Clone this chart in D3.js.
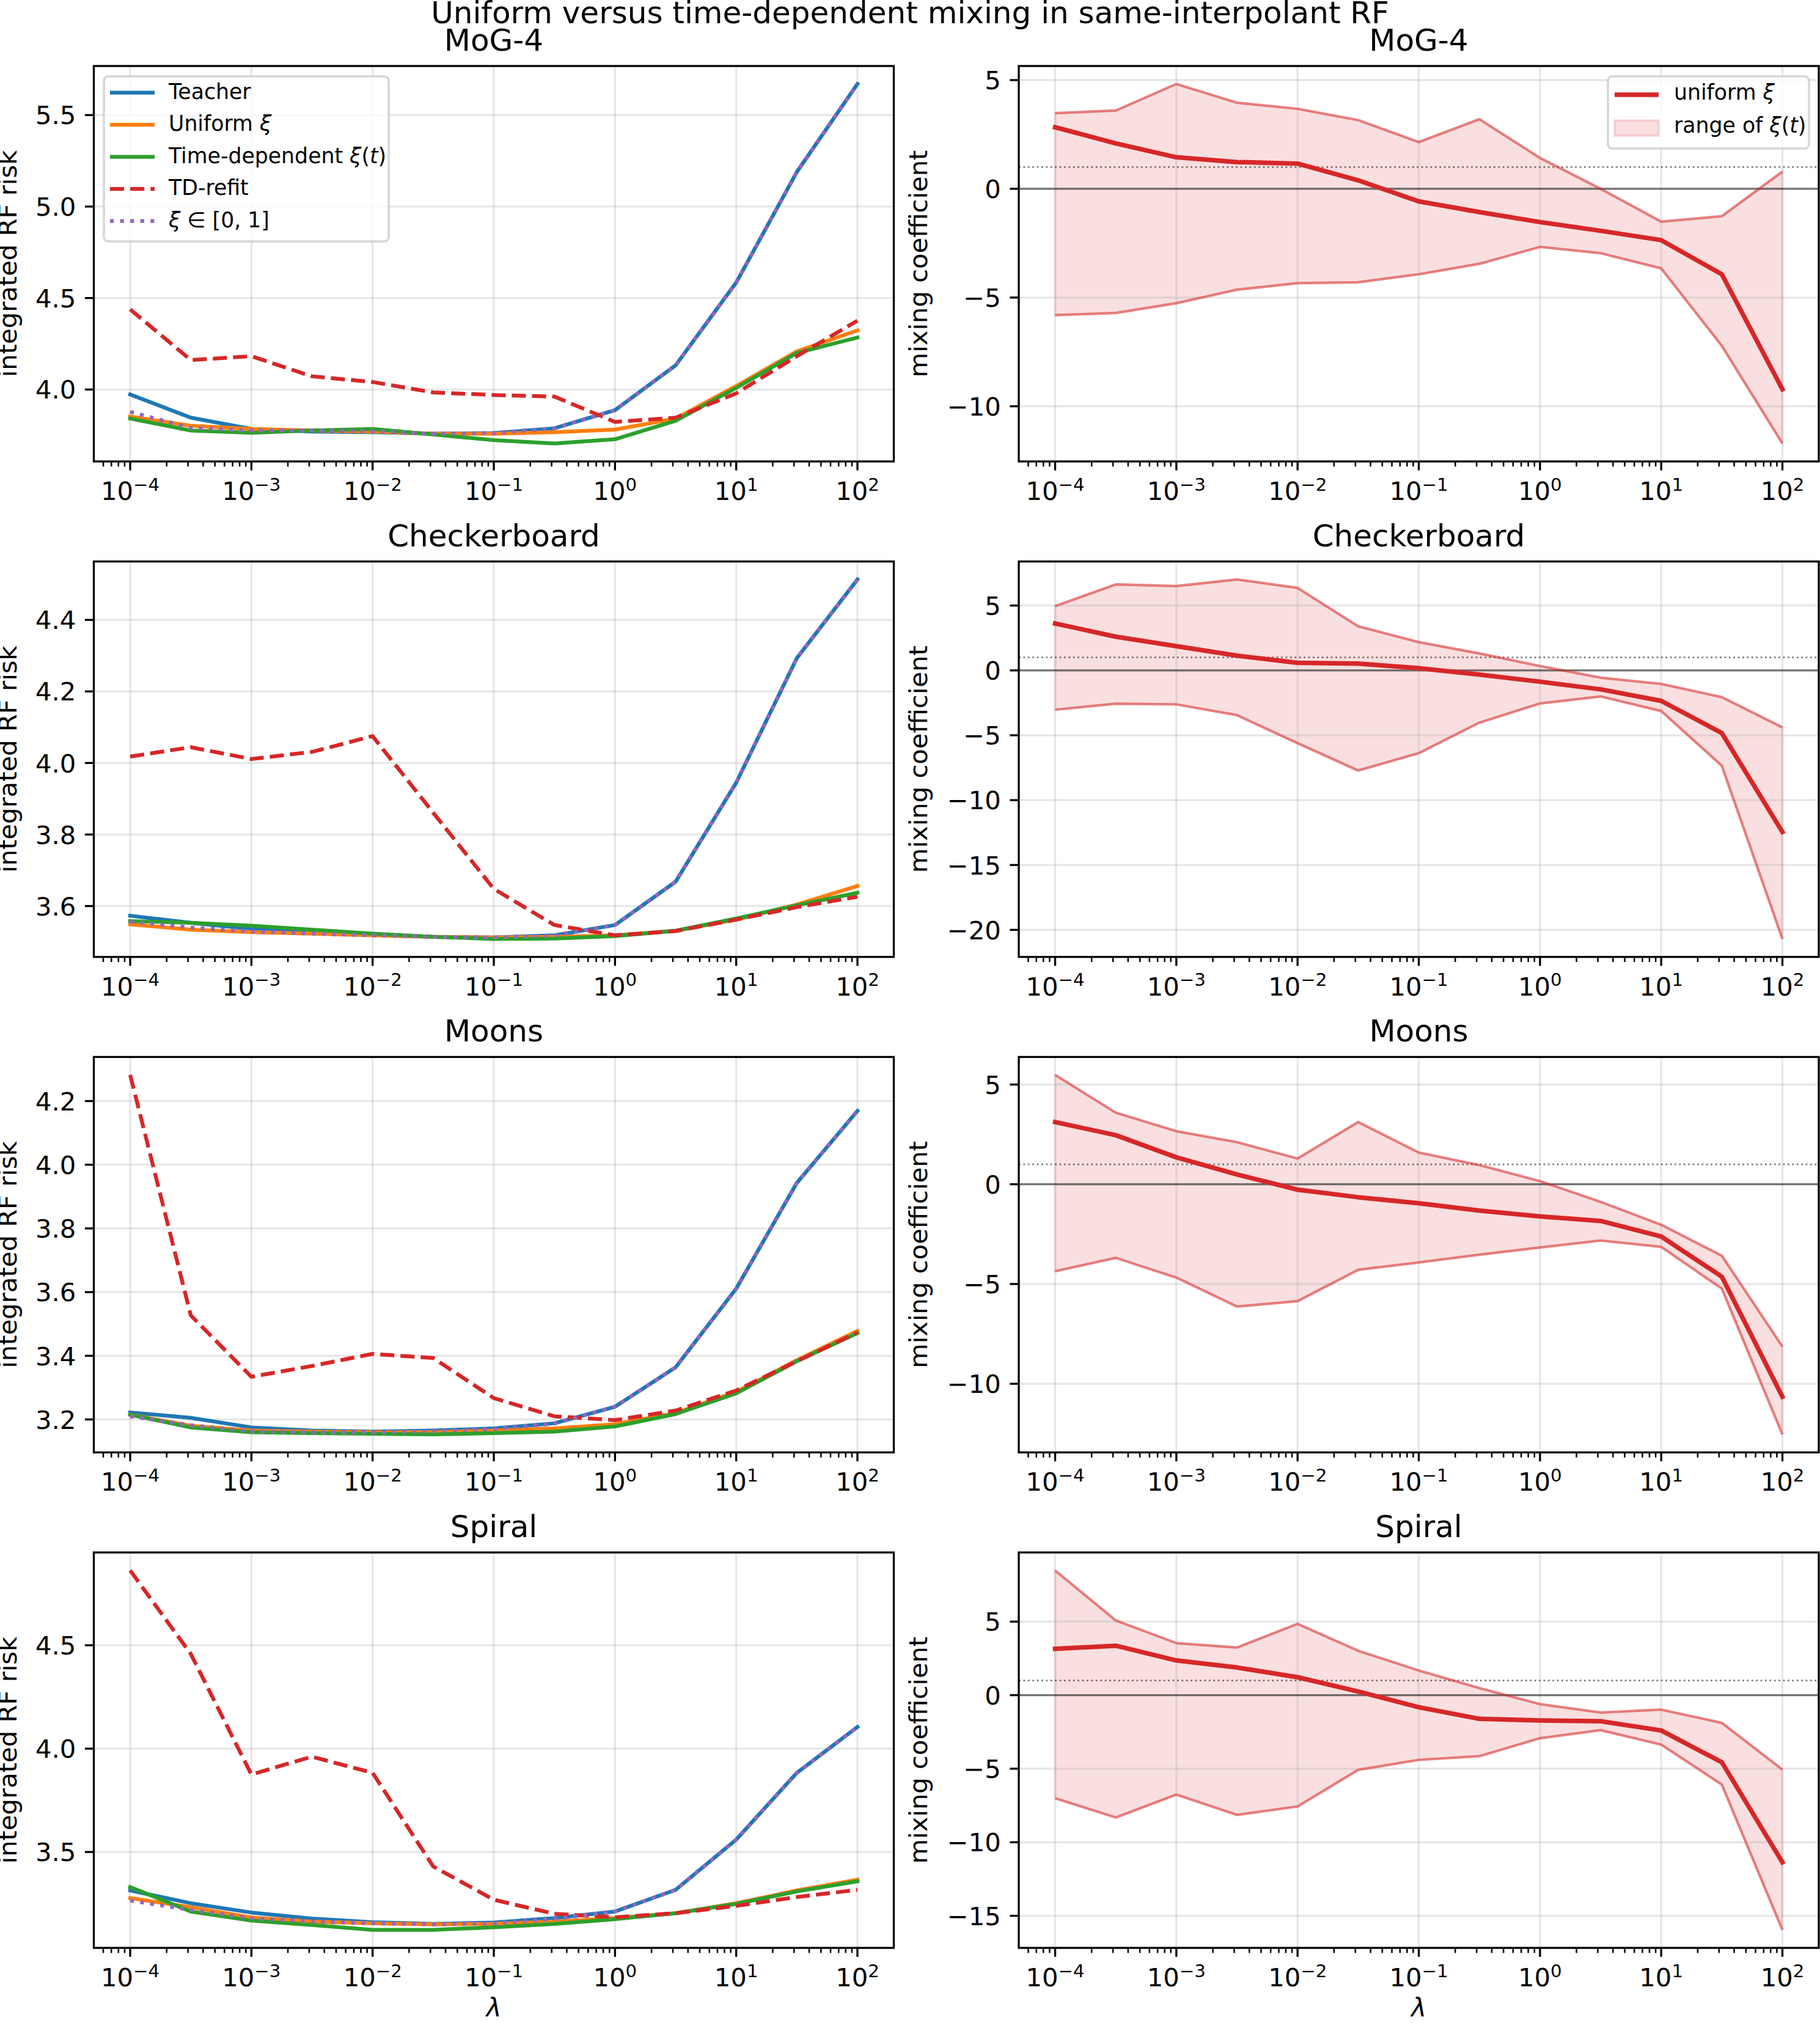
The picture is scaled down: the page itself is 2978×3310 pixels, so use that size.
<!DOCTYPE html>
<html>
<head>
<meta charset="utf-8">
<script src="https://cdn.jsdelivr.net/npm/d3@7"></script>
<style>
  body { margin: 0; background: #fff; }
  svg { display: block; font-family: "DejaVu Sans", sans-serif; }
</style>
</head>
<body>
<svg id="fig" width="2978" height="3310"></svg>
<script>
// lambda grid (half-decade steps) and panel names
const lambdas = [1e-4, 3.162e-4, 1e-3, 3.162e-3, 1e-2, 3.162e-2, 1e-1, 3.162e-1, 1, 3.162, 10, 31.62, 100]
const datasets = ["MoG-4", "Checkerboard", "Moons", "Spiral"]
const decades = [-4, -3, -2, -1, 0, 1, 2]

// y tick labels per row
const riskTicks = [[4.0, 4.5, 5.0, 5.5], [3.6, 3.8, 4.0, 4.2, 4.4], [3.2, 3.4, 3.6, 3.8, 4.0, 4.2], [3.5, 4.0, 4.5]]
const mixTicks = [[-10, -5, 0, 5], [-20, -15, -10, -5, 0, 5], [-10, -5, 0, 5], [-15, -10, -5, 0, 5]]

// integrated RF risk, one row per dataset
const teacherRisk = [
  [3.973, 3.846, 3.784, 3.770, 3.767, 3.758, 3.762, 3.788, 3.887, 4.132, 4.585, 5.189, 5.670],
  [3.573, 3.553, 3.536, 3.527, 3.521, 3.514, 3.512, 3.518, 3.547, 3.668, 3.945, 4.293, 4.513],
  [3.222, 3.205, 3.175, 3.165, 3.162, 3.165, 3.172, 3.188, 3.240, 3.364, 3.611, 3.943, 4.169],
  [3.314, 3.252, 3.207, 3.178, 3.160, 3.152, 3.159, 3.180, 3.212, 3.317, 3.560, 3.883, 4.105]
]
const uniformRisk = [
  [3.852, 3.802, 3.784, 3.776, 3.770, 3.758, 3.758, 3.767, 3.781, 3.841, 4.019, 4.208, 4.323],
  [3.549, 3.534, 3.527, 3.523, 3.518, 3.514, 3.512, 3.514, 3.518, 3.531, 3.562, 3.604, 3.656],
  [3.215, 3.180, 3.165, 3.162, 3.160, 3.160, 3.165, 3.172, 3.185, 3.220, 3.287, 3.386, 3.478],
  [3.277, 3.233, 3.183, 3.163, 3.155, 3.150, 3.152, 3.163, 3.180, 3.204, 3.252, 3.314, 3.366]
]
const timeDepRisk = [
  [3.841, 3.776, 3.763, 3.776, 3.784, 3.754, 3.723, 3.705, 3.728, 3.829, 4.009, 4.200, 4.284],
  [3.558, 3.553, 3.545, 3.534, 3.523, 3.514, 3.508, 3.509, 3.516, 3.531, 3.565, 3.602, 3.637],
  [3.215, 3.175, 3.160, 3.157, 3.155, 3.153, 3.157, 3.162, 3.178, 3.217, 3.282, 3.383, 3.471],
  [3.330, 3.212, 3.168, 3.147, 3.123, 3.123, 3.136, 3.152, 3.175, 3.204, 3.249, 3.309, 3.358]
]
const refitRisk = [
  [4.438, 4.161, 4.182, 4.072, 4.041, 3.984, 3.970, 3.961, 3.823, 3.846, 3.979, 4.182, 4.376],
  [4.018, 4.044, 4.011, 4.031, 4.075, 3.861, 3.648, 3.547, 3.518, 3.530, 3.562, 3.597, 3.626],
  [4.282, 3.527, 3.334, 3.368, 3.406, 3.393, 3.267, 3.210, 3.198, 3.228, 3.291, 3.383, 3.473],
  [4.862, 4.458, 3.875, 3.961, 3.883, 3.430, 3.269, 3.201, 3.184, 3.204, 3.239, 3.282, 3.317]
]
const clampRisk = [
  [3.878, 3.790, 3.776, 3.776, 3.772, 3.758, 3.762, 3.788, 3.887, 4.132, 4.585, 5.189, 5.670],
  [3.556, 3.540, 3.529, 3.523, 3.518, 3.514, 3.512, 3.518, 3.547, 3.668, 3.945, 4.293, 4.513],
  [3.210, 3.182, 3.163, 3.160, 3.160, 3.163, 3.170, 3.187, 3.240, 3.364, 3.611, 3.943, 4.169],
  [3.265, 3.220, 3.180, 3.163, 3.155, 3.150, 3.155, 3.176, 3.212, 3.317, 3.560, 3.883, 4.105]
]

// mixing coefficients
const uniformXi = [
  [2.83, 2.09, 1.45, 1.23, 1.16, 0.39, -0.58, -1.07, -1.53, -1.93, -2.36, -3.93, -9.22],
  [3.62, 2.60, 1.87, 1.14, 0.58, 0.53, 0.17, -0.32, -0.87, -1.46, -2.35, -4.83, -12.45],
  [3.12, 2.46, 1.35, 0.49, -0.27, -0.65, -0.95, -1.32, -1.61, -1.84, -2.62, -4.63, -10.65],
  [3.15, 3.36, 2.36, 1.88, 1.22, 0.25, -0.82, -1.61, -1.72, -1.77, -2.40, -4.56, -11.36]
]
const xiMax = [
  [3.48, 3.60, 4.82, 3.96, 3.68, 3.16, 2.15, 3.20, 1.42, 0.00, -1.51, -1.26, 0.79],
  [4.95, 6.63, 6.50, 7.01, 6.36, 3.40, 2.18, 1.31, 0.34, -0.56, -1.04, -2.06, -4.39],
  [5.48, 3.59, 2.66, 2.11, 1.29, 3.12, 1.59, 0.96, 0.16, -0.88, -2.03, -3.58, -8.13],
  [8.48, 5.08, 3.54, 3.24, 4.85, 3.02, 1.68, 0.48, -0.61, -1.18, -0.98, -1.88, -5.06]
]
const xiMin = [
  [-5.81, -5.71, -5.26, -4.64, -4.34, -4.30, -3.93, -3.45, -2.67, -2.96, -3.66, -7.22, -11.71],
  [-3.03, -2.57, -2.62, -3.45, -5.61, -7.72, -6.38, -4.03, -2.55, -2.01, -3.13, -7.35, -20.70],
  [-4.36, -3.69, -4.68, -6.13, -5.86, -4.29, -3.92, -3.53, -3.17, -2.82, -3.14, -5.23, -12.54],
  [-7.01, -8.32, -6.76, -8.14, -7.57, -5.08, -4.40, -4.15, -2.93, -2.38, -3.36, -6.08, -15.96]
]

// series of the left column: [data, colour, dash, legend label parts (text, italic)]
const riskSeries = [
  { data: teacherRisk, color: "#1f77b4", dash: null, label: [["Teacher", 0]] },
  { data: uniformRisk, color: "#ff7f0e", dash: null, label: [["Uniform ", 0], ["ξ", 1]] },
  { data: timeDepRisk, color: "#2ca02c", dash: null, label: [["Time-dependent ", 0], ["ξ", 1], ["(", 0], ["t", 1], [")", 0]] },
  { data: refitRisk, color: "#d62728", dash: "23.1,10", label: [["TD-refit", 0]] },
  { data: clampRisk, color: "#9467bd", dash: "6.25,10.3", label: [["ξ", 1], [" ∈ [0, 1]", 0]] }
]

const FS = 41.7, FS_TITLE = 50, FS_LEG = 34.7
const axW = 1309, axH = 647
const colX = [153.5, 1667]
const rowY0 = 108, rowStep = 810.7
const LW = 6.25

const svg = d3.select("#fig")

svg.append("text")
  .attr("x", 1489).attr("y", 38)
  .attr("text-anchor", "middle")
  .attr("font-size", FS_TITLE)
  .text("Uniform versus time-dependent mixing in same-interpolant RF")

function xScale(x0) {
  const ext = d3.extent(lambdas).map(Math.log10)
  const pad = 0.05 * (ext[1] - ext[0])
  return d3.scaleLog().domain([10 ** (ext[0] - pad), 10 ** (ext[1] + pad)]).range([x0, x0 + axW])
}
function yScale(values, y0) {
  const [lo, hi] = d3.extent(values)
  const pad = 0.05 * (hi - lo)
  return d3.scaleLinear().domain([lo - pad, hi + pad]).range([y0 + axH, y0])
}

function addParts(t, parts) {
  parts.forEach(([s, it]) => t.append("tspan").attr("font-style", it ? "italic" : null).text(s))
}

function grid(g, x, y, yt) {
  const [yb, ya] = y.range(), [xa, xb] = x.range()
  const gg = g.append("g").attr("stroke", "#b0b0b0").attr("stroke-opacity", 0.3).attr("stroke-width", 3.3)
  gg.selectAll(".gx").data(decades).join("line")
    .attr("x1", d => x(10 ** d)).attr("x2", d => x(10 ** d)).attr("y1", yb).attr("y2", ya)
  gg.selectAll(".gy").data(yt).join("line")
    .attr("x1", xa).attr("x2", xb).attr("y1", d => y(d)).attr("y2", d => y(d))
}

function frame(g, x, y, yt, fmt, title, ylabel, ylabOff, last) {
  const [yb, ya] = y.range(), [xa, xb] = x.range()
  const minors = d3.range(-5, 3).flatMap(k => d3.range(2, 10).map(m => m * 10 ** k))
    .filter(v => v > x.domain()[0] && v < x.domain()[1])
  g.append("g").selectAll("line").data(minors).join("line")
    .attr("x1", d => x(d)).attr("x2", d => x(d)).attr("y1", yb).attr("y2", yb + 8.3)
    .attr("stroke", "black").attr("stroke-width", 2.5)
  g.append("g").selectAll("line").data(decades).join("line")
    .attr("x1", d => x(10 ** d)).attr("x2", d => x(10 ** d)).attr("y1", yb).attr("y2", yb + 14.6)
    .attr("stroke", "black").attr("stroke-width", 3.3)
  g.append("g").selectAll("text").data(decades).join("text")
    .attr("x", d => x(10 ** d)).attr("y", yb + 63)
    .attr("text-anchor", "middle").attr("font-size", FS)
    .each(function (d) {
      const t = d3.select(this)
      t.append("tspan").text("10")
      t.append("tspan").attr("dy", -15.3).attr("font-size", 29.2).text(d < 0 ? "\u2212" + (-d) : String(d))
    })
  g.append("g").selectAll("line").data(yt).join("line")
    .attr("x1", xa - 14.6).attr("x2", xa).attr("y1", d => y(d)).attr("y2", d => y(d))
    .attr("stroke", "black").attr("stroke-width", 3.3)
  g.append("g").selectAll("text").data(yt).join("text")
    .attr("x", xa - 29.2).attr("y", d => y(d) + 15.2)
    .attr("text-anchor", "end").attr("font-size", FS)
    .text(fmt)
  g.append("rect")
    .attr("x", xa).attr("y", ya).attr("width", xb - xa).attr("height", yb - ya)
    .attr("fill", "none").attr("stroke", "black").attr("stroke-width", 3.3)
  g.append("text")
    .attr("x", (xa + xb) / 2).attr("y", ya - 25)
    .attr("text-anchor", "middle").attr("font-size", FS_TITLE)
    .text(title)
  g.append("text")
    .attr("transform", `translate(${xa + ylabOff},${(ya + yb) / 2}) rotate(-90)`)
    .attr("text-anchor", "middle").attr("font-size", FS)
    .text(ylabel)
  if (last) g.append("text")
    .attr("x", (xa + xb) / 2).attr("y", 3300)
    .attr("text-anchor", "middle").attr("font-size", FS).attr("font-style", "italic")
    .text("λ")
}

function legendFrame(g, x0, y0, w, h) {
  g.append("rect")
    .attr("x", x0).attr("y", y0).attr("width", w).attr("height", h).attr("rx", 7)
    .attr("fill", "white").attr("fill-opacity", 0.8)
    .attr("stroke", "#cccccc").attr("stroke-opacity", 0.8).attr("stroke-width", 3.5)
}

datasets.forEach((name, i) => {
  const top = rowY0 + i * rowStep
  const last = i === datasets.length - 1

  // left: integrated risk
  {
    const g = svg.append("g")
    const x = xScale(colX[0])
    const y = yScale(riskSeries.flatMap(s => s.data[i]), top)
    grid(g, x, y, riskTicks[i])
    const line = d3.line().x(d => x(d[0])).y(d => y(d[1]))
    riskSeries.forEach(s => {
      g.append("path")
        .attr("d", line(d3.zip(lambdas, s.data[i])))
        .attr("fill", "none").attr("stroke", s.color).attr("stroke-width", LW)
        .attr("stroke-dasharray", s.dash)
        .attr("stroke-linejoin", "round")
        .attr("stroke-linecap", s.dash ? "butt" : "square")
    })
    frame(g, x, y, riskTicks[i], d3.format(".1f"), name, "integrated RF risk", -127, last)

    if (i === 0) {
      const lg = svg.append("g")
      legendFrame(lg, 170, 125, 466, 270)
      riskSeries.forEach((s, j) => {
        const hy = 151.7 + j * 52.5
        lg.append("line")
          .attr("x1", 180).attr("x2", 253).attr("y1", hy).attr("y2", hy)
          .attr("stroke", s.color).attr("stroke-width", LW)
          .attr("stroke-dasharray", s.dash).attr("stroke-linecap", "butt")
        const t = lg.append("text").attr("x", 276).attr("y", hy + 10).attr("font-size", FS_LEG)
        addParts(t, s.label)
      })
    }
  }

  // right: mixing coefficient
  {
    const g = svg.append("g")
    const x = xScale(colX[1])
    const y = yScale([...uniformXi[i], ...xiMax[i], ...xiMin[i]], top)
    const rows = lambdas.map((l, k) => ({ l, u: uniformXi[i][k], hi: xiMax[i][k], lo: xiMin[i][k] }))
    g.append("path")
      .attr("d", d3.area().x(d => x(d.l)).y0(d => y(d.lo)).y1(d => y(d.hi))(rows))
      .attr("fill", "#d62728").attr("fill-opacity", 0.15)
      .attr("stroke", "#d62728").attr("stroke-opacity", 0.15).attr("stroke-width", 4)
    grid(g, x, y, mixTicks[i])
    const [xa, xb] = x.range()
    g.append("line")
      .attr("x1", xa).attr("x2", xb).attr("y1", y(0)).attr("y2", y(0))
      .attr("stroke", "black").attr("stroke-opacity", 0.5).attr("stroke-width", 3.3)
    g.append("line")
      .attr("x1", xa).attr("x2", xb).attr("y1", y(1)).attr("y2", y(1))
      .attr("stroke", "black").attr("stroke-opacity", 0.5).attr("stroke-width", 2.8)
      .attr("stroke-dasharray", "2.8,4.6")
    ;["hi", "lo"].forEach(key => {
      g.append("path")
        .attr("d", d3.line().x(d => x(d.l)).y(d => y(d[key]))(rows))
        .attr("fill", "none").attr("stroke", "#d62728").attr("stroke-opacity", 0.5)
        .attr("stroke-width", 4.2).attr("stroke-linejoin", "round")
    })
    g.append("path")
      .attr("d", d3.line().x(d => x(d.l)).y(d => y(d.u))(rows))
      .attr("fill", "none").attr("stroke", "#d62728").attr("stroke-width", 7.5)
      .attr("stroke-linejoin", "round").attr("stroke-linecap", "square")
    frame(g, x, y, mixTicks[i], d3.format("d"), name, "mixing coefficient", -150, last)

    if (i === 0) {
      const lg = svg.append("g")
      legendFrame(lg, 2631, 125, 329, 118)
      lg.append("line")
        .attr("x1", 2642).attr("x2", 2714).attr("y1", 155).attr("y2", 155)
        .attr("stroke", "#d62728").attr("stroke-width", 7.5)
      lg.append("rect")
        .attr("x", 2642).attr("y", 197).attr("width", 72).attr("height", 25)
        .attr("fill", "#d62728").attr("fill-opacity", 0.15)
        .attr("stroke", "#d62728").attr("stroke-opacity", 0.15).attr("stroke-width", 4)
      addParts(lg.append("text").attr("x", 2739).attr("y", 163.3).attr("font-size", FS_LEG),
        [["uniform ", 0], ["ξ", 1]])
      addParts(lg.append("text").attr("x", 2739).attr("y", 217.3).attr("font-size", FS_LEG),
        [["range of ", 0], ["ξ", 1], ["(", 0], ["t", 1], [")", 0]])
    }
  }
})
</script>
</body>
</html>
